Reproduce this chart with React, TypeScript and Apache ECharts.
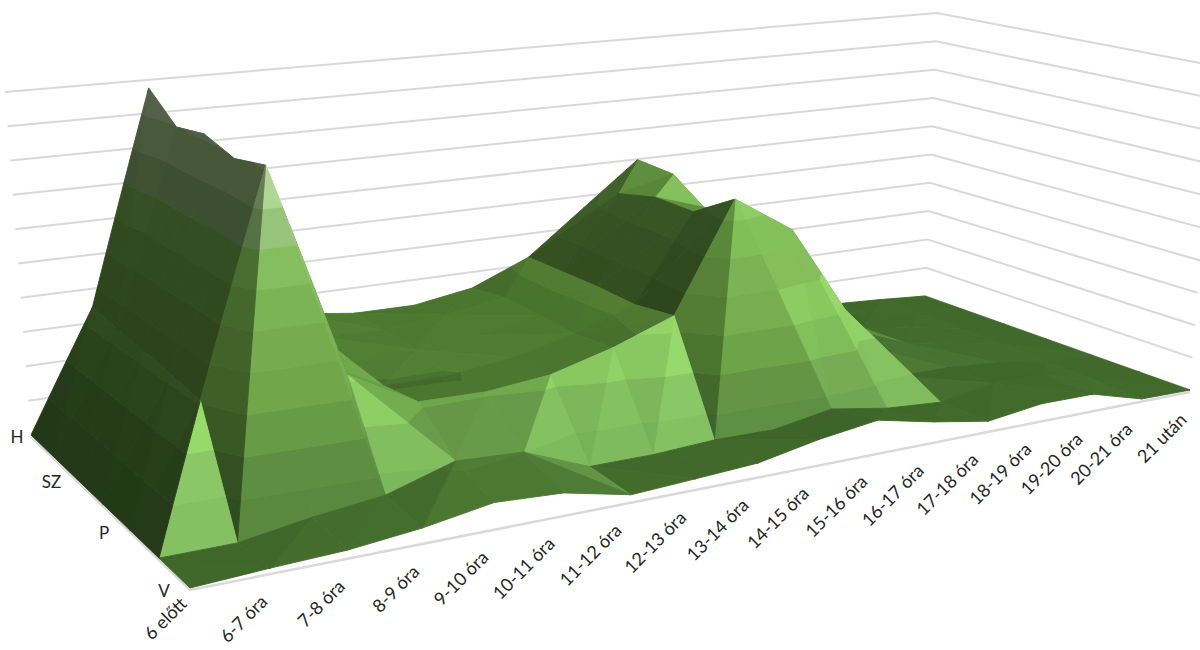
import React, { useEffect, useRef } from "react";
import * as echarts from "echarts";

// Hour-of-day categories and weekday rows of the traffic surface
const hours = ["6 előtt", "6-7 óra", "7-8 óra", "8-9 óra", "9-10 óra", "10-11 óra", "11-12 óra", "12-13 óra", "13-14 óra", "14-15 óra", "15-16 óra", "16-17 óra", "17-18 óra", "18-19 óra", "19-20 óra", "20-21 óra", "21 után"];
const dayLabels = ["H", "", "SZ", "", "P", "", "V"];

const hetfo = [0, 34.6, 97.5, 31.8, 24.6, 22.1, 22, 24.9, 32.3, 46, 59.8, 31.7, 15.2, 5.1, 2.1, 1.2, 0];
const kedd = [0, 33.4, 89.6, 31, 22.8, 22.1, 24, 26.8, 32.5, 54.9, 59, 26.1, 13.2, 5, 3.4, 1.3, 0];
const szerda = [0, 32.8, 91.5, 30.3, 21, 21.6, 23.1, 26.4, 32.6, 57.9, 50.4, 27.1, 11.3, 6.5, 4, 1.3, 0];
const csutortok = [0, 31.9, 88.6, 29.5, 19.6, 19.6, 21.9, 26.1, 32.1, 57.7, 53.9, 28, 9.5, 7, 3.9, 1.3, 0];
const pentek = [0, 30.8, 91, 31.4, 21, 20.7, 22.5, 27.4, 33.9, 65.8, 54.4, 27.7, 4.6, 4.4, 3.2, 0.6, 0];
const szombat = [0, 0.1, 3.1, 5.3, 11, 10.1, 2.8, 2.8, 3.7, 3.5, 6.4, 3.6, 2.4, 5.2, 4.9, 0.6, 0];
const vasarnap = [0, 1, 1.7, 3.6, 6.6, 5.6, 1.6, 2.5, 3.5, 6.8, 9.1, 5.5, 2.6, 4.7, 4.6, 0.2, 0];
const rows = [hetfo, kedd, szerda, csutortok, pentek, szombat, vasarnap];

// One base colour per 10-unit value band, lowest first, with the brightest it may get when lit
const bandColors: number[][] = [
  [64, 104, 42], [68, 108, 44], [76, 120, 48], [84, 128, 52], [88, 132, 56],
  [92, 140, 60], [100, 148, 68], [116, 152, 92], [136, 168, 112], [156, 180, 136],
];
const bandLitLimit = [2, 1.9, 1.8, 1.65, 1.4, 1.35, 1.35, 1.35, 1.35, 1.35];
const gridLevels = [0, 10, 20, 30, 40, 50, 60, 70, 80, 90, 100];

const CATS = hours.length - 1;
const DAYS = rows.length - 1;

type P3 = [number, number, number]; // hour index, day depth (0 = front row), value

// Perspective camera: floor homography plus a vertical vanishing point
function project(i: number, j: number, v: number): [number, number] {
  const s = i / CATS;
  const t = j / DAYS;
  const w = 1 + 0.3145 * s + 0.2118 * t;
  const x0 = (1374.2 * s - 152.4 * t + 190) / w;
  const y0 = (-75.3 * s - 60.9 * t + 588) / w;
  const full = 1 / (0.002467 + 0.000619 * s + 0.000448 * t);
  const rise = (full * v) / 100;
  return [x0 + (rise * (x0 - 600)) / (7949 - y0), y0 - rise];
}

function clipAbove(poly: P3[], lim: number, keepAbove: boolean): P3[] {
  const out: P3[] = [];
  const inside = (p: P3) => (keepAbove ? p[2] >= lim : p[2] <= lim);
  poly.forEach((a, n) => {
    const b = poly[(n + 1) % poly.length];
    if (inside(a)) out.push(a);
    if (inside(a) !== inside(b)) {
      const k = (lim - a[2]) / (b[2] - a[2]);
      out.push([a[0] + (b[0] - a[0]) * k, a[1] + (b[1] - a[1]) * k, lim]);
    }
  });
  return out;
}

function curve(table: number[][], x: number): number {
  if (x <= table[0][0]) return table[0][1];
  for (let n = 1; n < table.length; n++) {
    const [x0, y0] = table[n - 1];
    const [x1, y1] = table[n];
    if (x <= x1) return y0 + ((y1 - y0) * (x - x0)) / (x1 - x0);
  }
  return table[table.length - 1][1];
}

// Facet brightness as a response to its slope toward the front and to the side
const frontSlopeLight = [[-3, 0.55], [-1, 0.65], [-0.3, 0.9], [0, 1], [0.15, 1.12], [0.5, 1.55], [0.8, 1.7], [1.1, 1.8], [1.6, 1.45], [2, 1.32], [3, 1.25], [6, 1.2]];
const sideSlopeLight = [[-3, 0.7], [-1.2, 1], [-0.3, 1.05], [0, 1], [0.2, 1], [0.5, 0.8], [1, 0.62], [1.4, 0.55], [2.5, 0.42]];

function facetLight(a: P3, b: P3, c: P3): number {
  const phys = (p: P3) => [p[0] * 0.125, p[1] / 6, (p[2] / 100) * 0.54];
  const [A, B, C] = [phys(a), phys(b), phys(c)];
  const u = [B[0] - A[0], B[1] - A[1], B[2] - A[2]];
  const w = [C[0] - A[0], C[1] - A[1], C[2] - A[2]];
  const n = [u[1] * w[2] - u[2] * w[1], u[2] * w[0] - u[0] * w[2], u[0] * w[1] - u[1] * w[0]];
  const gx = -n[0] / n[2];
  const gy = -n[1] / n[2];
  // Faces that fall away to the right without dropping to the front catch extra light
  const crest = gx < -0.2 && gy < 0.3 ? 1.25 : 1;
  return Math.max(0.52, curve(frontSlopeLight, gy) * curve(sideSlopeLight, gx) * crest);
}

function shade(band: number, lit: number): string {
  const top = Math.min(band, bandColors.length - 1);
  const base = bandColors[top];
  const f = Math.min(lit, bandLitLimit[top]);
  const haze = f > 1 ? Math.min(0.25, (f - 1) * 0.18) : 0;
  const c = base.map((q) => Math.min(255, q * f) * (1 - haze) + 255 * haze);
  return `rgb(${Math.round(c[0])},${Math.round(c[1])},${Math.round(c[2])})`;
}

type Facet = { pts: [number, number][]; fill: string };

// Far cells first so nearer facets overdraw them
function buildFacets(): Facet[] {
  const out: Facet[] = [];
  rows.forEach((_, r) => {
    if (r === rows.length - 1) return;
    const jBack = DAYS - r;
    const jFront = jBack - 1;
    const back = rows[r];
    const front = rows[r + 1];
    for (let i = CATS - 1; i >= 0; i--) {
      const bl: P3 = [i, jBack, back[i]];
      const br: P3 = [i + 1, jBack, back[i + 1]];
      const fl: P3 = [i, jFront, front[i]];
      const fr: P3 = [i + 1, jFront, front[i + 1]];
      // The cell folds along whichever diagonal carries the larger sum
      const tris: P3[][] =
        bl[2] + fr[2] >= br[2] + fl[2]
          ? [[bl, br, fr], [bl, fr, fl]]
          : [[br, fr, fl], [bl, br, fl]];
      tris.forEach((tri) => {
        const f = facetLight(tri[0], tri[1], tri[2]);
        bandColors.forEach((_c, k) => {
          let poly = clipAbove(tri, k * 10, true);
          if (k < bandColors.length - 1 && poly.length) poly = clipAbove(poly, (k + 1) * 10, false);
          if (poly.length < 3) return;
          out.push({ pts: poly.map((p) => project(p[0], p[1], p[2])), fill: shade(k, f) });
        });
      });
    }
  });
  return out;
}

const GRID = "#d9d9d9";
const TEXT = "#262626";
const FONT = "Lato, sans-serif";

export default function App() {
  const ref = useRef<HTMLDivElement>(null);
  useEffect(() => {
    if (!ref.current) return;
    const chart = echarts.init(ref.current, undefined, { renderer: "svg" });
    const facets = buildFacets();
    chart.setOption({
      animation: false,
      backgroundColor: "#ffffff",
      grid: { left: 0, right: 0, top: 0, bottom: 0 },
      xAxis: { type: "value", min: 0, max: 1200, show: false },
      yAxis: { type: "value", min: 0, max: 650, inverse: true, show: false },
      series: [
        {
          // Horizontal rules on the two back walls
          type: "custom",
          silent: true,
          clip: false,
          data: gridLevels.map((v) => [v, 0]),
          renderItem: (_p: any, api: any) => {
            const v = gridLevels[_p.dataIndex];
            const pts = [project(0, DAYS, v), project(CATS, DAYS, v), project(CATS, 0, v)].map((q) => api.coord(q));
            return { type: "polyline", shape: { points: pts }, style: { fill: "none", stroke: GRID, lineWidth: 2 } };
          },
        },
        {
          // Floor edges along the day and hour axes
          type: "custom",
          silent: true,
          clip: false,
          data: [[0, 0]],
          renderItem: (_p: any, api: any) => {
            const pts = [project(0, DAYS, 0), project(0, 0, 0), project(CATS, 0, 0)].map((q) => api.coord([q[0], q[1] + 2]));
            return { type: "polyline", shape: { points: pts }, style: { fill: "none", stroke: GRID, lineWidth: 2.5 } };
          },
        },
        {
          type: "custom",
          silent: true,
          clip: false,
          data: facets.map((f) => f.pts[0]),
          renderItem: (p: any, api: any) => {
            const f = facets[p.dataIndex];
            return {
              type: "polygon",
              shape: { points: f.pts.map((q) => api.coord(q)) },
              style: { fill: f.fill, stroke: f.fill, lineWidth: 0.9, lineJoin: "round" },
            };
          },
        },
        {
          // Hour labels, slanted along the front edge; longer names sit further left
          type: "custom",
          silent: true,
          clip: false,
          data: hours.map((_h, i) => project(i, 0, 0)),
          renderItem: (p: any, api: any) => {
            const [x, y] = api.coord(project(p.dataIndex, 0, 0));
            const name = hours[p.dataIndex];
            return {
              type: "text",
              x: x - 7 - (name.length - 7) * 3,
              y: Math.min(y + 26, 600),
              rotation: Math.PI / 4,
              style: { text: name, textAlign: "right", textVerticalAlign: "middle", fill: TEXT, font: `18px ${FONT}` },
            };
          },
        },
        {
          // Day labels beside the left floor edge
          type: "custom",
          silent: true,
          clip: false,
          data: dayLabels.map((_d, r) => project(0, DAYS - r, 0)),
          renderItem: (p: any, api: any) => {
            const [x, y] = api.coord(project(0, DAYS - p.dataIndex, 0));
            return {
              type: "text",
              x: Math.max(x - 26, 17),
              y: y + 2,
              style: { text: dayLabels[p.dataIndex], textAlign: "center", textVerticalAlign: "middle", fill: TEXT, font: `17px ${FONT}` },
            };
          },
        },
      ],
    });
    return () => chart.dispose();
  }, []);
  return <div ref={ref} style={{ position: "fixed", left: 0, top: 0, width: 1200, height: 650 }} />;
}
